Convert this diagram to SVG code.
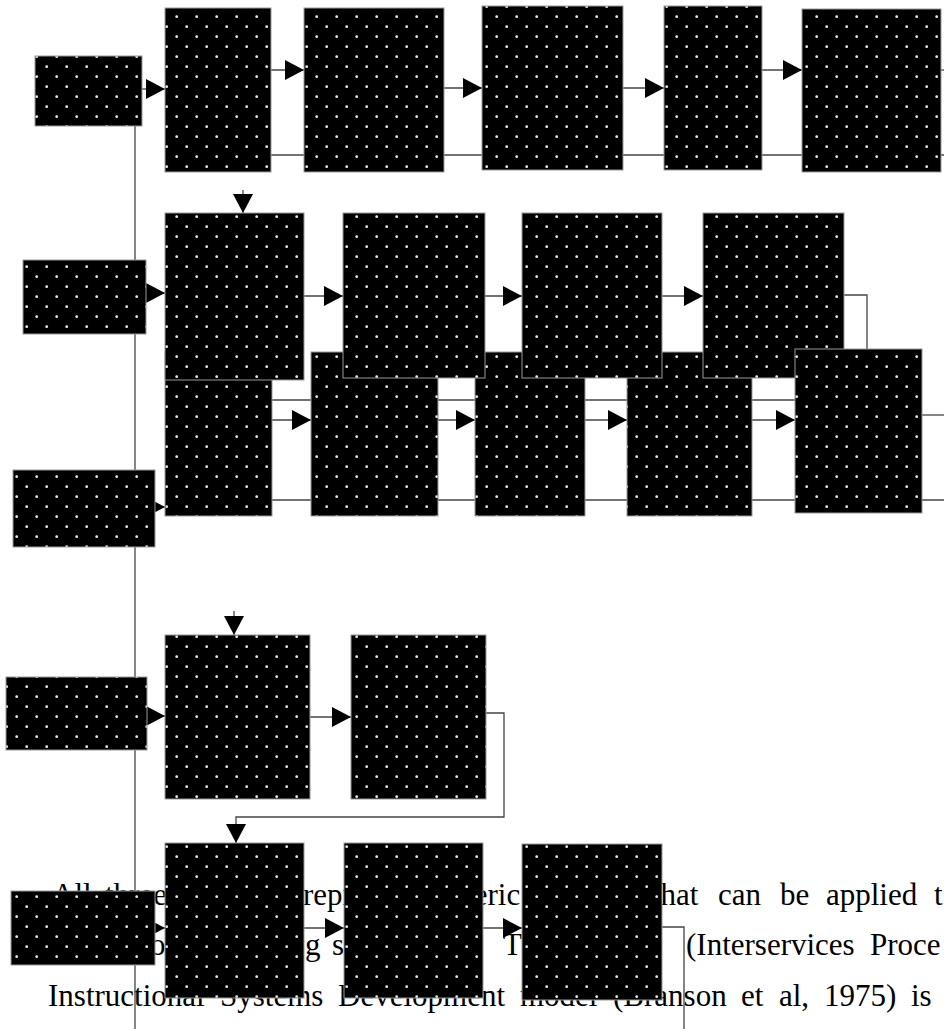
<svg xmlns="http://www.w3.org/2000/svg" width="944" height="1029" viewBox="0 0 944 1029">
<style>
.box{fill:url(#dots);stroke:#999;stroke-width:1}
.ln{fill:none;stroke:#444;stroke-width:1.3}
.ar{marker-end:url(#ah)}
.t{font-family:"Liberation Serif","Times New Roman",serif;font-size:31px;fill:#000}
</style>
<defs>
<pattern id="dots" patternUnits="userSpaceOnUse" x="0" y="0" width="20" height="20">
<rect width="20" height="20" fill="#000"/>
<circle cx="6.7" cy="6.7" r="1.4" fill="#e6e6e6"/>
<circle cx="16.7" cy="16.7" r="1.4" fill="#e6e6e6"/>
</pattern>
<marker id="ah" markerUnits="userSpaceOnUse" markerWidth="20" markerHeight="20" refX="19" refY="10" orient="auto">
<path d="M0,0 L19,10 L0,20 Z" fill="#000"/>
</marker>
</defs>
<rect width="944" height="1029" fill="#fff"/>
<g id="text">
<text class="t" x="52" y="905">All</text>
<text class="t" x="105" y="905">three</text>
<text class="t" x="303" y="905">represent</text>
<text class="t" x="429" y="905">generic</text>
<text class="t" x="652" y="905">that</text>
<text class="t" x="718" y="905">can</text>
<text class="t" x="780" y="905">be</text>
<text class="t" x="826" y="905">applied</text>
<text class="t" x="934" y="905">t</text>
<text class="t" x="150" y="955">o</text>
<text class="t" x="305" y="955">g</text>
<text class="t" x="332" y="955">s</text>
<text class="t" x="503" y="955">T</text>
<text class="t" x="686" y="955">(Interservices</text>
<text class="t" x="870" y="955">Proce</text>
<text class="t" x="48" y="1006">Instructional</text>
<text class="t" x="220" y="1006">Systems</text>
<text class="t" x="338" y="1006">Development</text>
<text class="t" x="520" y="1006">model</text>
<text class="t" x="613" y="1006">(Branson</text>
<text class="t" x="741" y="1006">et</text>
<text class="t" x="779" y="1006">al,</text>
<text class="t" x="824" y="1006">1975)</text>
<text class="t" x="911" y="1006">is</text>
</g>
<g id="connectors">
<line class="ln" x1="135" y1="126" x2="135" y2="1029"/>
<line class="ln ar" x1="142" y1="89" x2="165" y2="89"/>
<line class="ln ar" x1="271" y1="70" x2="304" y2="70"/>
<line class="ln ar" x1="444" y1="88" x2="482" y2="88"/>
<line class="ln ar" x1="623" y1="88" x2="664" y2="88"/>
<line class="ln ar" x1="762" y1="70" x2="802" y2="70"/>
<line class="ln" x1="941" y1="70" x2="944" y2="70"/>
<line class="ln" x1="271" y1="155" x2="944" y2="155"/>
<line class="ln ar" x1="243" y1="190" x2="243" y2="213"/>
<line class="ln ar" x1="146" y1="293" x2="165" y2="293"/>
<line class="ln ar" x1="304" y1="296" x2="343" y2="296"/>
<line class="ln ar" x1="485" y1="296" x2="522" y2="296"/>
<line class="ln ar" x1="662" y1="296" x2="703" y2="296"/>
<polyline class="ln" points="844,295 867,295 867,352"/>
<line class="ln" x1="272" y1="400" x2="795" y2="400"/>
<line class="ln ar" x1="272" y1="420" x2="311" y2="420"/>
<line class="ln ar" x1="438" y1="420" x2="475" y2="420"/>
<line class="ln ar" x1="585" y1="420" x2="627" y2="420"/>
<line class="ln ar" x1="752" y1="420" x2="795" y2="420"/>
<line class="ln" x1="922" y1="415" x2="944" y2="415"/>
<line class="ln" x1="272" y1="500" x2="944" y2="500"/>
<line class="ln ar" x1="135" y1="507" x2="165" y2="507"/>
<line class="ln ar" x1="234" y1="611" x2="234" y2="635"/>
<line class="ln ar" x1="135" y1="716" x2="165" y2="716"/>
<line class="ln ar" x1="310" y1="717" x2="351" y2="717"/>
<polyline class="ln ar" points="486,713 504,713 504,817 236,817 236,843"/>
<line class="ln ar" x1="135" y1="928" x2="165" y2="928"/>
<line class="ln ar" x1="304" y1="928" x2="344" y2="928"/>
<line class="ln ar" x1="483" y1="928" x2="522" y2="928"/>
<polyline class="ln" points="662,927 684,927 684,1029"/>
</g>
<g id="n-a1"><rect class="box" x="35" y="56" width="107" height="70"/></g>
<g id="n-b1"><rect class="box" x="165" y="8" width="106" height="164"/></g>
<g id="n-c1"><rect class="box" x="304" y="8" width="140" height="164"/></g>
<g id="n-d1"><rect class="box" x="482" y="6" width="141" height="164"/></g>
<g id="n-e1"><rect class="box" x="664" y="6" width="98" height="164"/></g>
<g id="n-f1"><rect class="box" x="802" y="9" width="139" height="163"/></g>
<g id="n-a2"><rect class="box" x="23" y="260" width="123" height="74"/></g>
<g id="n-b3"><rect class="box" x="165" y="352" width="107" height="164"/></g>
<g id="n-c3"><rect class="box" x="311" y="352" width="127" height="164"/></g>
<g id="n-d3"><rect class="box" x="475" y="352" width="110" height="164"/></g>
<g id="n-e3"><rect class="box" x="627" y="352" width="125" height="164"/></g>
<g id="n-b2"><rect class="box" x="165" y="213" width="139" height="167"/></g>
<g id="n-c2"><rect class="box" x="343" y="213" width="142" height="165"/></g>
<g id="n-d2"><rect class="box" x="522" y="213" width="140" height="165"/></g>
<g id="n-e2"><rect class="box" x="703" y="213" width="141" height="165"/></g>
<g id="n-f3"><rect class="box" x="795" y="349" width="127" height="164"/></g>
<g id="n-a3"><rect class="box" x="13" y="470" width="142" height="77"/></g>
<g id="n-a4"><rect class="box" x="6" y="677" width="141" height="73"/></g>
<g id="n-b4"><rect class="box" x="165" y="635" width="145" height="164"/></g>
<g id="n-c4"><rect class="box" x="351" y="635" width="135" height="164"/></g>
<g id="n-a5"><rect class="box" x="11" y="891" width="144" height="74"/></g>
<g id="n-b5"><rect class="box" x="165" y="843" width="139" height="155"/></g>
<g id="n-c5"><rect class="box" x="344" y="843" width="139" height="155"/></g>
<g id="n-d5"><rect class="box" x="522" y="844" width="140" height="156"/></g>
</svg>
